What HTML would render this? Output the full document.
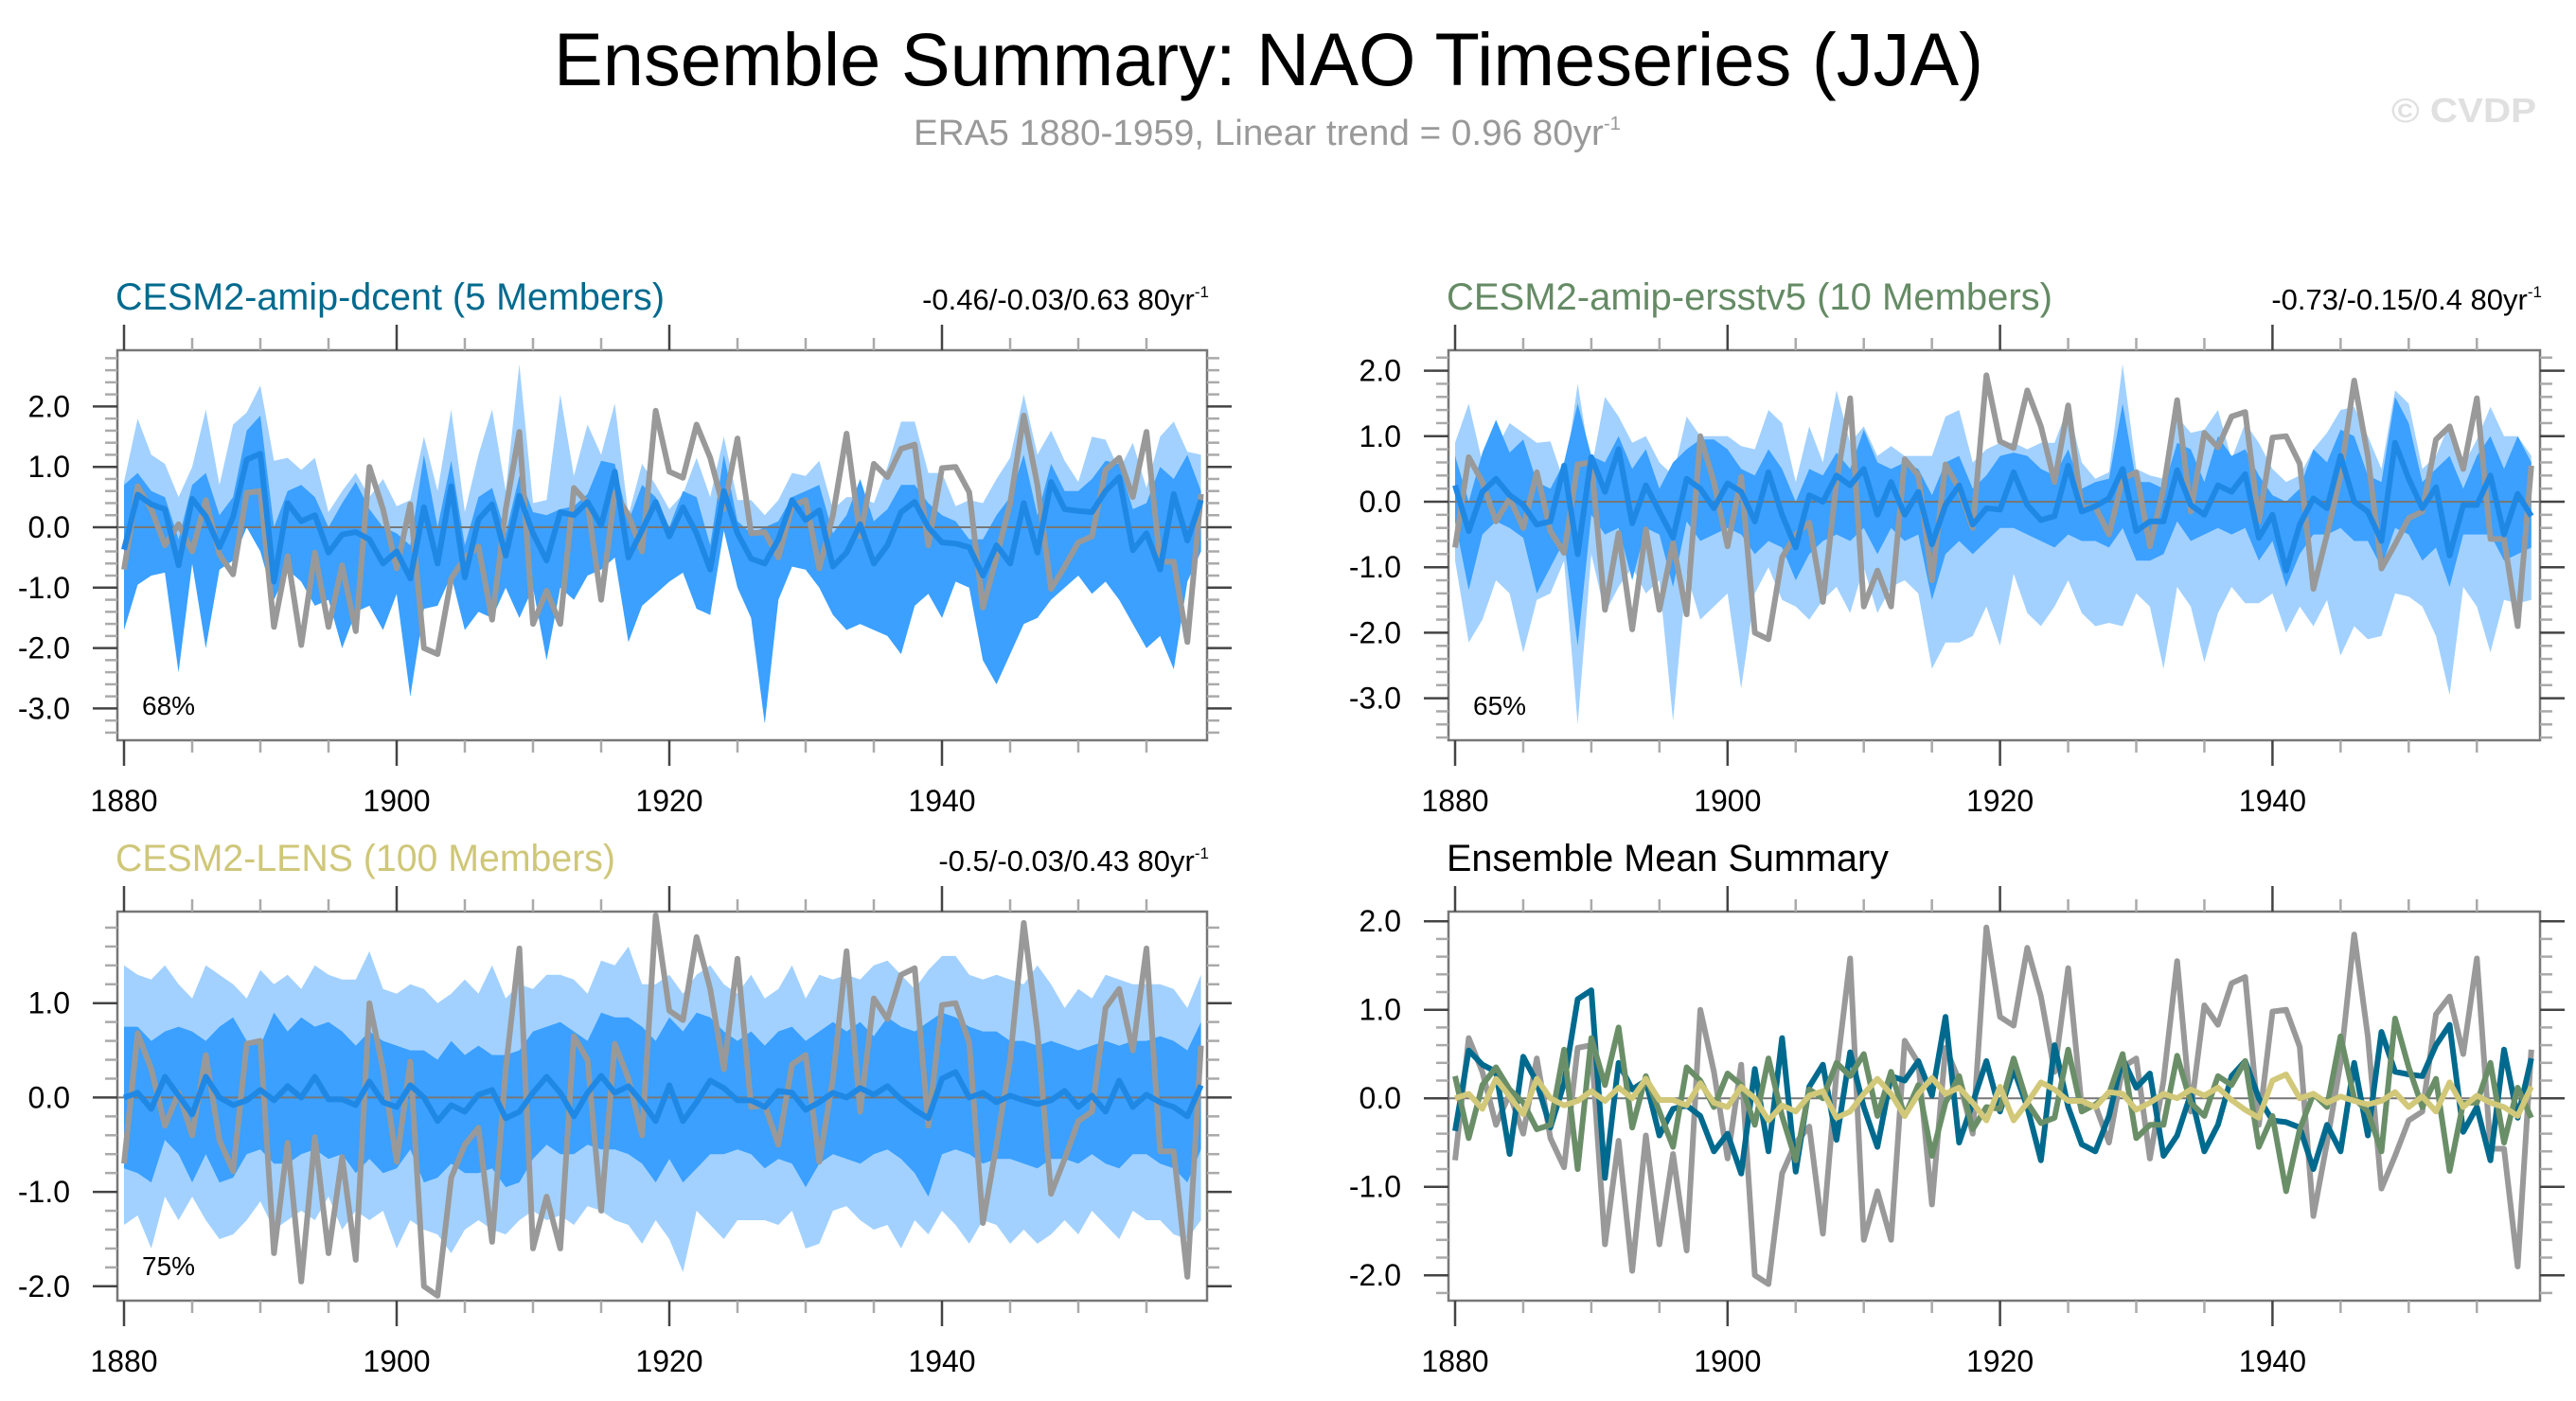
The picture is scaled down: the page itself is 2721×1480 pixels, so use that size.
<!DOCTYPE html>
<html><head><meta charset="utf-8"><title>Ensemble Summary: NAO Timeseries (JJA)</title>
<style>
html,body{margin:0;padding:0;background:#fff;}
svg{display:block;font-family:"Liberation Sans",Arial,sans-serif;}
</style></head>
<body>
<svg id="chart" xmlns="http://www.w3.org/2000/svg" width="2721" height="1480" viewBox="0 0 2721 1480">
<rect width="2721" height="1480" fill="#fff"/>
<text x="585" y="90" font-size="79" textLength="1510" lengthAdjust="spacingAndGlyphs" fill="#000">Ensemble Summary: NAO Timeseries (JJA)</text>
<text x="965" y="153" font-size="38" fill="#999" textLength="747" lengthAdjust="spacingAndGlyphs">ERA5 1880-1959, Linear trend = 0.96 80yr<tspan dy="-16" font-size="20">-1</tspan></text>
<text x="2526" y="129" font-size="36" font-weight="bold" fill="#e0e0e0" textLength="153" lengthAdjust="spacingAndGlyphs">© CVDP</text>
<g id="panels"></g>
</svg>
<script>
// ---- Data (years 1880-1959) ----
const years = Array.from({length:80},(_,i)=>1880+i);
const era5 = [-0.7,0.68,0.3,-0.3,0.05,-0.4,0.45,-0.45,-0.78,0.57,
0.6,-1.65,-0.48,-1.95,-0.42,-1.65,-0.63,-1.72,1.0,0.3,
-0.68,0.38,-2.0,-2.1,-0.85,-0.5,-0.32,-1.53,0.3,1.58,
-1.6,-1.05,-1.6,0.65,0.4,-1.2,0.57,0.2,-0.4,1.93,
0.92,0.82,1.7,1.15,0.3,1.47,-0.1,-0.08,-0.5,0.35,
0.45,-0.68,0.2,1.55,-0.15,1.05,0.83,1.3,1.37,-0.3,
0.98,1.0,0.58,-1.33,-0.5,0.4,1.85,0.7,-1.02,-0.65,
-0.25,-0.15,0.95,1.15,0.5,1.58,-0.57,-0.57,-1.9,0.55];
const dcentMean = [-0.37,0.54,0.38,0.3,-0.63,0.47,0.18,-0.33,0.17,1.12,
1.22,-0.9,0.4,0.1,0.2,-0.42,-0.12,-0.08,-0.2,-0.6,
-0.4,-0.85,0.33,-0.6,0.68,-0.83,0.13,0.38,-0.47,0.52,
-0.1,-0.55,0.25,0.2,0.42,0.03,0.92,-0.5,-0.05,0.42,
-0.15,0.33,-0.1,-0.7,0.6,-0.1,-0.52,-0.6,-0.2,0.45,
0.12,0.28,-0.65,-0.42,0.05,-0.6,-0.3,0.25,0.42,0.0,
-0.25,-0.27,-0.33,-0.8,-0.3,-0.6,0.4,-0.42,0.75,0.3,
0.27,0.25,0.6,0.83,-0.38,-0.1,-0.7,0.55,-0.22,0.45];
const ersstMean = [0.25,-0.45,0.15,0.35,0.1,-0.05,-0.35,-0.3,0.55,-0.8,
0.68,0.15,0.8,-0.33,0.25,-0.15,-0.55,0.35,0.2,-0.1,
0.28,0.15,-0.3,0.45,-0.2,-0.7,0.1,0.0,0.4,0.25,
0.5,-0.2,0.3,-0.2,0.15,-0.65,-0.05,0.25,-0.35,-0.1,
-0.12,0.45,-0.05,-0.28,-0.22,0.55,-0.15,-0.07,0.05,0.5,
-0.45,-0.3,-0.3,0.48,-0.05,-0.2,0.25,0.15,0.42,-0.55,
-0.2,-1.05,-0.35,0.05,-0.1,0.7,0.0,-0.15,-0.6,0.9,
0.35,-0.1,0.22,-0.82,-0.05,-0.05,0.4,-0.5,0.12,-0.22];
const lensMean = [0.0,0.05,-0.12,0.22,0.02,-0.18,0.22,0.0,-0.08,-0.03,
0.08,-0.03,0.12,0.0,0.22,-0.02,-0.02,-0.08,0.17,-0.05,
-0.1,0.13,0.0,-0.25,-0.08,-0.15,0.03,0.08,-0.22,-0.15,
0.05,0.22,0.05,-0.2,0.05,0.23,0.05,0.12,-0.05,-0.25,
0.13,-0.25,-0.05,0.18,0.1,-0.03,-0.03,-0.1,0.07,0.05,
-0.13,-0.05,0.05,0.0,0.1,0.03,0.12,-0.02,-0.13,-0.22,
0.2,0.27,0.0,0.05,-0.05,0.02,-0.03,-0.07,-0.03,0.07,
-0.1,0.02,-0.15,0.18,-0.1,0.03,-0.05,-0.1,-0.2,0.13];

// dcent bands
const dcentMax = [0.75,1.8,1.2,1.05,0.5,1.0,1.95,0.7,1.7,1.9,
2.35,1.1,1.15,0.95,1.15,0.25,0.6,0.9,0.5,0.8,
0.35,0.45,1.5,0.6,1.95,0.25,1.2,1.95,0.6,2.7,
0.4,0.45,2.2,0.85,1.7,1.2,2.05,0.2,1.05,0.7,
0.3,0.55,1.15,0.5,1.5,0.45,0.45,0.2,0.45,0.9,
0.85,1.1,0.3,0.5,0.5,0.4,1.0,1.75,1.75,0.9,
0.9,0.35,0.45,0.4,0.8,1.15,2.2,1.2,1.6,1.1,
0.75,1.5,1.45,0.95,1.4,0.65,1.5,1.75,1.25,1.2];
const dcentHi = [0.7,0.9,0.6,0.5,-0.2,0.7,0.9,0.2,0.5,1.6,
1.85,0.0,0.6,0.7,0.5,0.0,0.4,0.75,0.3,0.0,
-0.1,-0.3,1.2,0.0,1.1,-0.3,0.5,0.65,-0.1,0.85,
0.25,0.2,0.3,0.35,0.55,1.1,1.05,0.1,0.7,0.5,
0.0,0.6,0.5,-0.3,1.2,0.1,-0.1,0.0,0.1,0.5,
0.6,0.7,-0.1,0.2,0.8,0.1,0.3,0.7,0.7,0.4,
0.2,0.1,-0.2,-0.2,0.2,0.5,1.2,0.2,1.05,0.6,
0.6,0.8,1.1,1.05,0.3,0.4,1.0,0.8,1.2,0.6];
const dcentLo = [-1.7,-0.95,-0.8,-0.75,-2.4,-0.6,-2.0,-0.7,-0.55,0.0,
-0.4,-1.2,-0.7,-0.9,-1.3,-1.2,-2.0,-1.4,-1.3,-1.7,
-1.1,-2.8,-1.35,-1.3,-0.8,-1.7,-1.4,-1.5,-1.0,-1.5,
-1.0,-2.2,-1.0,-1.2,-0.8,-0.7,-0.5,-1.9,-1.3,-1.1,
-0.9,-0.75,-1.35,-1.45,-0.05,-1.0,-1.5,-3.25,-1.2,-0.65,
-0.7,-1.0,-1.45,-1.7,-1.6,-1.7,-1.8,-2.1,-1.3,-1.1,
-1.5,-0.9,-1.0,-2.2,-2.6,-2.1,-1.6,-1.5,-1.2,-1.0,
-0.8,-1.1,-0.9,-1.2,-1.6,-2.0,-1.8,-2.35,-0.9,-0.4];
const dcentMin = dcentLo.slice();

// ersstv5 bands
const ersstMax = [0.9,1.5,0.6,0.8,1.2,1.05,0.9,0.92,0.3,1.8,
0.5,1.6,1.3,0.9,1.0,0.6,0.4,1.3,1.0,1.0,
1.0,0.85,0.8,1.4,1.2,0.3,1.15,0.6,1.7,0.9,
1.15,0.7,0.85,0.7,0.7,0.7,1.3,1.4,0.6,0.8,
0.9,0.9,0.8,0.9,0.9,1.45,0.6,0.35,0.45,2.1,
0.5,0.4,0.35,1.3,1.05,1.1,1.4,0.65,1.2,0.9,
0.5,0.3,0.4,0.8,1.05,1.4,1.45,1.0,0.5,1.7,
1.5,0.5,0.7,1.2,0.55,0.95,1.45,1.0,1.0,0.7];
const ersstMin = [-0.9,-2.15,-1.8,-1.2,-1.4,-2.3,-1.5,-1.4,-0.9,-3.4,
-0.8,-1.7,-1.3,-1.0,-1.4,-1.2,-3.35,-1.1,-1.8,-1.6,
-1.4,-2.85,-1.4,-1.0,-1.5,-1.6,-1.8,-1.5,-1.3,-1.7,
-1.0,-1.7,-1.3,-1.2,-1.4,-2.55,-2.15,-2.15,-2.05,-1.6,
-2.2,-1.1,-1.7,-1.9,-1.6,-1.2,-1.7,-1.9,-1.85,-1.9,
-1.4,-1.6,-2.55,-1.3,-1.6,-2.45,-1.7,-1.3,-1.55,-1.55,
-1.4,-2.0,-1.6,-1.9,-1.5,-2.35,-1.9,-2.1,-2.05,-1.4,
-1.45,-1.6,-2.05,-2.95,-1.3,-1.6,-2.3,-1.5,-1.55,-1.5];
const ersstHi = [0.7,0.0,0.75,1.25,0.75,0.95,0.3,0.2,0.6,1.5,
0.7,0.6,1.0,0.5,0.8,0.2,0.6,0.8,0.95,0.95,
0.8,0.5,0.4,0.8,0.5,0.0,0.5,0.4,0.75,0.5,
1.1,0.6,0.5,0.6,0.5,0.1,0.6,0.7,0.2,0.4,
0.7,0.75,0.7,0.5,0.4,0.8,0.2,0.3,0.35,1.5,
0.3,0.3,0.2,0.9,0.8,0.3,1.0,0.7,0.8,0.4,
0.1,0.0,0.2,0.8,0.6,1.1,1.0,0.4,0.3,1.6,
1.2,0.3,0.5,0.7,0.2,0.7,1.0,0.5,1.0,0.6];
const ersstLo = [-0.3,-1.35,-0.5,-0.3,-0.4,-0.55,-1.4,-1.0,-0.6,-2.2,
-0.2,-0.5,-0.4,-1.2,-0.4,-0.5,-1.3,-0.3,-0.6,-0.5,
-0.4,-0.5,-0.8,-0.6,-0.7,-1.2,-0.8,-0.6,-0.5,-0.6,
-0.4,-0.8,-0.4,-0.6,-0.5,-1.5,-0.8,-0.6,-0.8,-0.6,
-0.4,-0.4,-0.5,-0.6,-0.7,-0.5,-0.6,-0.6,-0.7,-0.4,
-0.9,-0.9,-0.8,-0.3,-0.6,-0.5,-0.4,-0.5,-0.4,-0.9,
-0.6,-1.3,-0.8,-0.5,-0.5,-0.4,-0.6,-0.6,-1.0,-0.4,
-0.5,-0.9,-0.7,-1.3,-0.5,-0.5,-0.5,-0.9,-0.8,-0.7];

// LENS bands
const lensMax = [1.4,1.3,1.25,1.4,1.2,1.05,1.4,1.3,1.2,1.05,
1.35,1.2,1.3,1.15,1.4,1.3,1.25,1.25,1.55,1.15,
1.1,1.2,1.15,1.0,1.1,1.25,1.1,1.4,1.05,1.2,
1.15,1.3,1.3,1.25,1.1,1.45,1.4,1.6,1.2,1.2,
1.3,1.1,1.3,1.4,1.2,1.1,1.3,1.05,1.15,1.4,
1.05,1.3,1.25,1.3,1.25,1.4,1.45,1.3,1.15,1.35,
1.5,1.5,1.3,1.25,1.3,1.25,1.2,1.4,1.2,0.95,
1.15,1.05,1.3,1.25,1.2,1.2,1.2,1.15,0.95,1.3];
const lensMin = [-1.35,-1.25,-1.6,-1.05,-1.3,-1.05,-1.3,-1.5,-1.45,-1.3,
-1.1,-1.4,-1.3,-1.2,-1.3,-1.05,-1.4,-1.2,-1.3,-1.2,
-1.6,-1.3,-1.4,-1.45,-1.65,-1.4,-1.3,-1.4,-1.45,-1.3,
-1.2,-1.3,-1.25,-1.35,-1.15,-1.2,-1.3,-1.35,-1.55,-1.3,
-1.5,-1.85,-1.2,-1.35,-1.5,-1.3,-1.3,-1.3,-1.35,-1.2,
-1.6,-1.55,-1.2,-1.15,-1.3,-1.4,-1.35,-1.6,-1.3,-1.45,
-1.2,-1.35,-1.55,-1.3,-1.35,-1.55,-1.4,-1.55,-1.45,-1.3,
-1.45,-1.2,-1.35,-1.5,-1.2,-1.3,-1.3,-1.45,-1.5,-1.3];
const lensHi = [0.75,0.75,0.6,0.7,0.75,0.7,0.6,0.75,0.85,0.6,
0.55,0.9,0.7,0.85,0.75,0.8,0.7,0.55,0.7,0.6,
0.55,0.5,0.5,0.4,0.6,0.45,0.55,0.45,0.45,0.5,
0.7,0.75,0.8,0.7,0.6,0.9,0.85,0.85,0.75,0.6,
0.85,0.7,0.9,0.85,0.7,0.6,0.7,0.55,0.7,0.75,
0.6,0.7,0.8,0.7,0.8,0.65,0.85,0.75,0.7,0.8,
0.9,0.85,0.75,0.7,0.7,0.6,0.6,0.55,0.6,0.55,
0.5,0.55,0.6,0.55,0.6,0.6,0.65,0.6,0.5,0.8];
const lensLo = [-0.75,-0.8,-0.9,-0.45,-0.6,-0.9,-0.6,-0.9,-0.85,-0.6,
-0.55,-0.7,-0.7,-0.6,-0.55,-0.65,-0.6,-0.8,-0.65,-0.8,
-0.75,-0.55,-0.9,-0.85,-0.7,-0.8,-0.8,-0.75,-0.95,-0.9,
-0.65,-0.5,-0.6,-0.6,-0.5,-0.55,-0.55,-0.6,-0.7,-0.9,
-0.65,-0.9,-0.75,-0.6,-0.6,-0.55,-0.6,-0.75,-0.65,-0.7,
-0.95,-0.7,-0.6,-0.65,-0.7,-0.6,-0.55,-0.65,-0.8,-1.05,
-0.6,-0.55,-0.6,-0.7,-0.65,-0.65,-0.7,-0.75,-0.65,-0.65,
-0.7,-0.6,-0.7,-0.75,-0.6,-0.6,-0.7,-0.75,-0.9,-0.55];

const xTickYears = [1880,1900,1920,1940];
const xTickLabels = ["1880","1900","1920","1940"];
const yTicks1 = [2,1,0,-1,-2,-3];
const yTicks2 = [2,1,0,-1,-2,-3];
const yTicks3 = [1,0,-1,-2];
const yTicks4 = [2,1,0,-1,-2];

const NS = "http://www.w3.org/2000/svg";
const root = document.getElementById('panels');
function mk(tag, attrs, parent){
  const e = document.createElementNS(NS, tag);
  for (const k in attrs) e.setAttribute(k, attrs[k]);
  (parent||root).appendChild(e);
  return e;
}

function panel(cfg){
  const g = mk('g', {});
  
  
  const L=cfg.left, R=cfg.right, T=cfg.top, B=cfg.bottom;
  const xs = y => cfg.x0 + (y-1880)*cfg.xpy;
  const ys = v => cfg.y0 - v*cfg.ppu;
  const clipId = cfg.name + '-clip';
  const cp = mk('clipPath', {id: clipId}, g);
  mk('rect', {x:L, y:T, width:R-L, height:B-T}, cp);
  const plot = mk('g', {'clip-path': 'url(#'+clipId+')'}, g);
  
  

  function band(up, lo, color, nm){
    let pts = [];
    for (let i=0;i<years.length;i++) pts.push(xs(years[i]).toFixed(1)+','+ys(up[i]).toFixed(1));
    for (let i=years.length-1;i>=0;i--) pts.push(xs(years[i]).toFixed(1)+','+ys(lo[i]).toFixed(1));
    const p = mk('polygon', {points: pts.join(' '), fill: color}, plot);
    
    
  }
  function line(vals, color, nm, w){
    const pts = vals.map((v,i)=>xs(years[i]).toFixed(1)+','+ys(v).toFixed(1)).join(' ');
    const p = mk('polyline', {points: pts, fill:'none', stroke: color, 'stroke-width': w||6, 'stroke-linejoin':'round'}, plot);
    
    
  }
  if (cfg.bands){
    band(cfg.bands.max, cfg.bands.min, '#a2d1ff', 'range-band');
    band(cfg.bands.hi, cfg.bands.lo, '#3ba0ff', 'inner-band');
  }
  const z = mk('line', {x1:L, x2:R, y1:ys(0), y2:ys(0), stroke:'#777', 'stroke-width':2}, plot);
  
  
  line(era5, '#999999', 'era5-line', 6);
  cfg.lines.forEach(l => line(l.vals, l.color, l.name, 6));

  const fr = mk('rect', {x:L, y:T, width:R-L, height:B-T, fill:'none', stroke:'#777', 'stroke-width':2.5}, g);
  
  

  const vTop=(cfg.y0-T)/cfg.ppu, vBot=(cfg.y0-B)/cfg.ppu;
  for (let k=Math.ceil(vBot*5); k<=Math.floor(vTop*5); k++){
    const v=k/5, y=ys(v), major = (k%5===0);
    const len = major?26:13, col = major?'#444':'#aaa';
    mk('line',{x1:L-len,x2:L,y1:y,y2:y,stroke:col,'stroke-width':2.5},g);
    mk('line',{x1:R,x2:R+len,y1:y,y2:y,stroke:col,'stroke-width':2.5},g);
  }
  cfg.yTicks.forEach(v=>{
    const t = mk('text',{x:L-50,y:ys(v)+11,'font-size':32,'text-anchor':'end',fill:'#000'},g);
    t.textContent = v.toFixed(1);
    
    
  });
  for (let yr=1880; yr<=1959; yr+=5){
    const x=xs(yr), major=(yr%20===0);
    const len=major?27:13, col=major?'#444':'#aaa';
    mk('line',{x1:x,x2:x,y1:T-len,y2:T,stroke:col,'stroke-width':2.5},g);
    mk('line',{x1:x,x2:x,y1:B,y2:B+len,stroke:col,'stroke-width':2.5},g);
  }
  xTickYears.forEach((yr,i)=>{
    const t = mk('text',{x:xs(yr),y:B+75,'font-size':32,'text-anchor':'middle',fill:'#000'},g);
    t.textContent = xTickLabels[i];
    
    
  });
  const tt = mk('text',{x:L-2,y:T-43,'font-size':40,fill:cfg.titleColor,textLength:cfg.titleLen,lengthAdjust:'spacingAndGlyphs'},g);
  tt.textContent = cfg.title;
  
  
  if (cfg.stats){
    const st = mk('text',{x:R+2,y:T-43,'font-size':31,'text-anchor':'end',fill:'#000'},g);
    
    
    const a = mk('tspan',{},st); a.textContent = cfg.stats+' 80yr';
    const b = mk('tspan',{dy:-13,'font-size':17},st); b.textContent='-1';
  }
  if (cfg.pct){
    const p = mk('text',{x:L+26,y:cfg.pctY,'font-size':28,fill:'#000'},g);
    p.textContent = cfg.pct;
    
    
  }
}

panel({name:'panel-cesm2-amip-dcent', left:124,right:1275,top:370,bottom:782, x0:131, xpy:14.4, y0:557, ppu:63.8,
  yTicks:yTicks1, title:'CESM2-amip-dcent (5 Members)', titleColor:'#006a8e', titleLen:580,
  stats:'-0.46/-0.03/0.63', pct:'68%', pctY:755,
  bands:{max:dcentMax,min:dcentMin,hi:dcentHi,lo:dcentLo},
  lines:[{vals:dcentMean,color:'#1f88e5',name:'ensemble-mean-line'}]});
panel({name:'panel-cesm2-amip-ersstv5', left:1530,right:2683,top:370,bottom:782, x0:1537, xpy:14.39, y0:530, ppu:69.2,
  yTicks:yTicks2, title:'CESM2-amip-ersstv5 (10 Members)', titleColor:'#658b65', titleLen:640,
  stats:'-0.73/-0.15/0.4', pct:'65%', pctY:755,
  bands:{max:ersstMax,min:ersstMin,hi:ersstHi,lo:ersstLo},
  lines:[{vals:ersstMean,color:'#1f88e5',name:'ensemble-mean-line'}]});
panel({name:'panel-cesm2-lens', left:124,right:1275,top:963,bottom:1374, x0:131, xpy:14.4, y0:1159.4, ppu:99.7,
  yTicks:yTicks3, title:'CESM2-LENS (100 Members)', titleColor:'#cfc779', titleLen:528,
  stats:'-0.5/-0.03/0.43', pct:'75%', pctY:1347,
  bands:{max:lensMax,min:lensMin,hi:lensHi,lo:lensLo},
  lines:[{vals:lensMean,color:'#1f88e5',name:'ensemble-mean-line'}]});
panel({name:'panel-ensemble-mean-summary', left:1530,right:2683,top:963,bottom:1374, x0:1537, xpy:14.39, y0:1160.2, ppu:93.5,
  yTicks:yTicks4, title:'Ensemble Mean Summary', titleColor:'#000', titleLen:467,
  lines:[{vals:dcentMean,color:'#006a8e',name:'dcent-mean-line'},
         {vals:ersstMean,color:'#6a8f68',name:'ersstv5-mean-line'},
         {vals:lensMean,color:'#d2c879',name:'lens-mean-line'}]});
</script>
</body></html>
